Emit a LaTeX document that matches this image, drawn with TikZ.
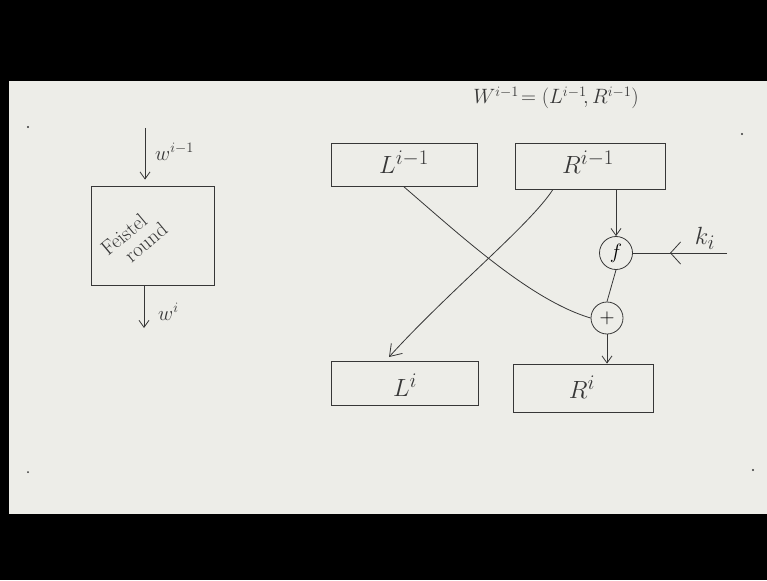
\documentclass[tikz,border=0pt]{standalone}
\usetikzlibrary{arrows.meta}
\definecolor{boardcol}{RGB}{237,237,232}
\definecolor{inkcol}{RGB}{55,55,55}
\begin{document}
\begin{tikzpicture}[x=1pt,y=-1pt,
  ink/.style={draw=inkcol, line width=0.8pt},
  regbox/.style={ink, rectangle, inner sep=0pt},
  opcircle/.style={ink, circle, inner sep=0pt, minimum size=33pt},
  arr/.style={ink, -{Straight Barb[length=7pt,width=10pt]}},
  bigarr/.style={ink, -{Straight Barb[length=10pt,width=22pt]}},
  tiparr/.style={ink, -{Straight Barb[length=11pt,width=15pt]}},
  lbl/.style={text=inkcol, inner sep=0pt},
  hugetxt/.style={lbl, font=\fontsize{24.88}{27}\selectfont},
  bigtxt/.style={lbl, font=\fontsize{20.74}{23}\selectfont},
  dotmark/.style={fill=inkcol}
]
\useasboundingbox (0,0) rectangle (767,580);
\fill[black] (0,0) rectangle (767,580);
\fill[boardcol] (9,81) rectangle (767,514);

% board marks
\fill[dotmark] (28,127) circle (1.2);
\fill[dotmark] (742,134) circle (1.2);
\fill[dotmark] (753,470) circle (1.2);
\fill[dotmark] (28,472) circle (1.0);

% ---------- left: Feistel round block ----------
\node[regbox, minimum width=123pt, minimum height=99pt] (fr) at (153,235.5) {};
\node[bigtxt, rotate=40, align=left] (feistel) at (134,239)
  {Feistel\\[-3pt]\hspace{14pt}round};
\coordinate (win) at (145,128);
\coordinate (wout) at (144,328);
\draw[arr, shorten >=6pt] (win) -- (win |- fr.north);
\draw[arr] (fr.south -| wout) -- (wout);
\node[bigtxt, anchor=west] (wprevlbl) at (155,152) {$w^{i-1}$};
\node[bigtxt, anchor=west] (wcurlbl) at (158,312) {$w^{i}$};

% ---------- right: round structure ----------
\node[bigtxt] (title) at (556,98) {$W^{i-1}\!=(L^{i-1}\!,R^{i-1})$};

\node[regbox, minimum width=146pt, minimum height=43pt] (Lprev) at (404,165) {};
\node[regbox, minimum width=150pt, minimum height=46pt] (Rprev) at (590,166) {};
\node[regbox, minimum width=147pt, minimum height=44pt] (Lcur) at (405,383) {};
\node[regbox, minimum width=140pt, minimum height=48pt] (Rcur) at (583,388) {};

\node[hugetxt] (Lprevlbl) at (404,162) {$L^{i-1}$};
\node[hugetxt] (Rprevlbl) at (588,162) {$R^{i-1}$};
\node[hugetxt] (Lcurlbl) at (405,385) {$L^{i}$};
\node[hugetxt] (Rcurlbl) at (582,387) {$R^{i}$};

\node[opcircle] (f) at (616,253) {\fontsize{20.74}{22}\selectfont$f$};
\node[opcircle, minimum size=32pt] (plus) at (607,318) {\fontsize{20.74}{22}\selectfont$+$};

\coordinate (k) at (727,253);
\coordinate (kt) at (670,253);
\node[hugetxt] (klbl) at (705,238) {$k_i$};

\draw[arr] (Rprev.south -| f) -- (f.north);
\draw[ink] (f.east) -- (k);
\draw[bigarr] (k) -- (kt);
\draw[ink] (f.south) -- (plus.north);
\draw[arr] (plus.south) -- (Rcur.north -| plus);

% crossing lines
\draw[ink] (Lprev.south) .. controls (460,235) and (530,300) .. (plus.west);
\coordinate (Ltip) at (389,357);
\draw[tiparr] ([xshift=-37pt]Rprev.south) .. controls (530,225) and (450,290) .. (Ltip);
\end{tikzpicture}
\end{document}
